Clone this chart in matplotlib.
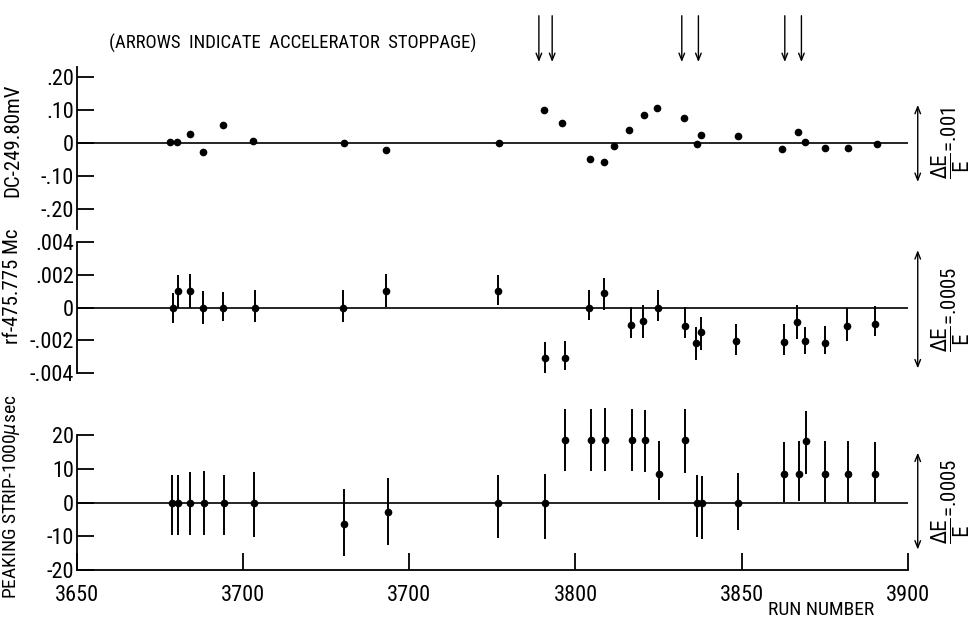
#Run-by-run stability of the beam energy monitors
import matplotlib
matplotlib.use('Agg')
import matplotlib.pyplot as plt
from matplotlib import font_manager

# pick a narrow lettering font if one is installed
names = set(font_manager.get_font_names())
family = 'DejaVu Sans'
for f in ['Liberation Sans Narrow', 'Roboto Condensed', 'Open Sans Condensed']:
    if f in names:
        family = f
        break
plt.rcParams['font.family'] = [family, 'DejaVu Sans']
plt.rcParams['font.stretch'] = 'condensed'

# DC monitor (offset from 249.80 mV)
dc_runs = [3678, 3680, 3684, 3688, 3694, 3703, 3730.5, 3743, 3777, 3790.5, 3796,
           3804.5, 3808.7, 3811.7, 3816.2, 3820.6, 3824.6, 3832.8, 3836.6, 3837.7,
           3849, 3862.2, 3867, 3869, 3875.2, 3882, 3890.6]
dc_vals = [0.004, 0.004, 0.028, -0.027, 0.054, 0.005, 0.0, -0.02, 0.0, 0.10, 0.06,
           -0.05, -0.057, -0.01, 0.04, 0.085, 0.107, 0.075, -0.004, 0.025,
           0.02, -0.017, 0.032, 0.003, -0.016, -0.016, -0.003]

# rf frequency (offset from 475.775 Mc, in units of .001), with error bar ends
rf_runs = [3679, 3680.3, 3684.1, 3688, 3694, 3703.5, 3730.2, 3743, 3776.6, 3790.7,
           3796.8, 3804, 3808.5, 3816.6, 3820.4, 3824.7, 3832.9, 3836.3, 3837.9,
           3848.4, 3862.7, 3866.6, 3869, 3875.2, 3881.8, 3890]
rf_vals = [0.0, 1.0, 1.0, 0.0, 0.0, 0.0, 0.0, 1.0, 1.0, -3.1, -3.1, 0.0, 0.92,
           -1.03, -0.8, 0.0, -1.1, -2.13, -1.48, -2.03, -2.09, -0.88, -2.03,
           -2.15, -1.1, -1.0]
rf_top = [0.9, 1.97, 2.03, 1.0, 0.94, 1.05, 1.1, 2.07, 1.97, -2.11, -2.03, 1.05,
          1.83, 0.02, 0.18, 1.05, 0.06, -1.17, -0.55, -0.97, -0.97, 0.18, -1.21,
          -1.1, -0.02, 0.12]
rf_bot = [-0.95, 0.0, 0.0, -0.97, -0.84, -0.9, -0.9, 0.06, 0.18, -3.96, -3.83,
          -0.76, -0.14, -1.83, -1.83, -0.8, -1.83, -3.22, -2.58, -2.89, -2.89,
          -1.93, -2.81, -2.81, -2.03, -1.72]

# peaking strip (offset from 1000 usec), with error bar ends
ps_runs = [3678.6, 3680.3, 3684.1, 3688.3, 3694.4, 3703.4, 3730.5, 3743.6, 3776.6,
           3790.7, 3796.8, 3804.8, 3809, 3817.1, 3821, 3825, 3832.9, 3836.6, 3838,
           3848.8, 3862.7, 3867.3, 3869.4, 3875.2, 3882.1, 3890.2]
ps_vals = [0, 0, 0, 0, 0, 0, -6.2, -2.8, 0, 0, 18.7, 18.7, 18.7, 18.7, 18.7, 8.6,
           18.7, 0, 0, 0, 8.6, 8.6, 18.4, 8.6, 8.6, 8.6]
ps_top = [8.1, 8.1, 9.1, 9.3, 8.1, 9.1, 4.0, 7.2, 8.3, 8.5, 27.8, 27.8, 28.1, 27.8,
          27.6, 18.2, 27.8, 8.3, 8.0, 8.8, 17.9, 18.2, 27.3, 18.2, 18.2, 17.9]
ps_bot = [-9.7, -9.7, -9.7, -9.7, -9.7, -10.2, -15.9, -12.7, -10.4, -10.8, 9.3,
          9.3, 9.3, 9.3, 9.0, 0.9, 8.8, -10.2, -10.8, -8.2, 0.1, 0.4, 8.6, 0.1,
          0.1, 0.1]

stoppages = [3789, 3793, 3832, 3837, 3863, 3868]
xtick_pos = [3650, 3700, 3750, 3800, 3850, 3900]
xtick_lab = ['3650', '3700', '3700', '3800', '3850', '3900']

fig = plt.figure(figsize=(9.74, 6.19), dpi=100)
ax1 = fig.add_axes([0.079, 0.630, 0.853, 0.262])
ax2 = fig.add_axes([0.079, 0.397, 0.853, 0.212])
ax3 = fig.add_axes([0.079, 0.079, 0.853, 0.218])

FS = 16
for ax in (ax1, ax2, ax3):
    ax.set_xlim(3650, 3900)
    for s in ('top', 'right', 'bottom'):
        ax.spines[s].set_visible(False)
    ax.spines['left'].set_linewidth(1.3)
    ax.axhline(0, color='k', lw=1.2)
    ax.tick_params(axis='y', direction='in', length=12, width=1.3, pad=2,
                   labelsize=FS)
    ax.set_xticks([])

# top panel
ax1.plot(dc_runs, dc_vals, 'o', color='k', ms=4.5)
ax1.set_ylim(-0.2606, 0.2303)
ax1.set_yticks([0.2, 0.1, 0, -0.1, -0.2])
ax1.set_yticklabels(['.20', '.10', '0', '-.10', '-.20'])
ax1.set_ylabel('DC-249.80mV', fontsize=15)
ax1.yaxis.set_label_coords(-0.066, 0.55)

# middle panel
k = 0.001
ax2.errorbar(rf_runs, [v * k for v in rf_vals],
             yerr=[[(v - b) * k for v, b in zip(rf_vals, rf_bot)],
                   [(t - v) * k for v, t in zip(rf_vals, rf_top)]],
             fmt='o', color='k', ms=4.5, elinewidth=1.4, capsize=0, clip_on=False)
ax2.set_ylim(-0.004, 0.004)
ax2.set_yticks([0.004, 0.002, 0, -0.002, -0.004])
ax2.set_yticklabels(['.004', '.002', '0', '-.002', '-.004'])
ax2.set_ylabel('rf-475.775 Mc', fontsize=15)
ax2.yaxis.set_label_coords(-0.066, 0.66)

# bottom panel
ax3.errorbar(ps_runs, ps_vals,
             yerr=[[v - b for v, b in zip(ps_vals, ps_bot)],
                   [t - v for v, t in zip(ps_vals, ps_top)]],
             fmt='o', color='k', ms=4.5, elinewidth=1.4, capsize=0, clip_on=False)
ax3.set_ylim(-20, 20)
ax3.set_yticks([20, 10, 0, -10, -20])
ax3.set_yticklabels(['20', '10', '0', '-10', '-20'])
ax3.set_ylabel(r'PEAKING STRIP-1000$\mu$sec', fontsize=14)
ax3.yaxis.set_label_coords(-0.066, 0.54)
ax3.spines['bottom'].set_visible(True)
ax3.spines['bottom'].set_linewidth(1.3)
ax3.set_xticks(xtick_pos)
ax3.set_xticklabels(xtick_lab)
ax3.tick_params(axis='x', direction='in', length=12, width=1.3, pad=11,
                labelsize=FS)
ax3.text(3858, -31.9, 'RUN NUMBER', fontsize=14, ha='left', va='center')

# accelerator stoppage arrows
for r in stoppages:
    ax1.annotate('', xy=(r, 0.245), xytext=(r, 0.385), annotation_clip=False,
                 arrowprops=dict(arrowstyle='->,head_length=0.5,head_width=0.2',
                                 color='k', lw=1.0, shrinkA=0, shrinkB=0))
ax1.text(3659.5, 0.30, '(ARROWS  INDICATE  ACCELERATOR  STOPPAGE)',
         fontsize=13.5, ha='left', va='center')

# scale arrows on the right
scales = [(ax1, 0.115, -0.118, '.001'), (ax2, 0.0035, -0.0037, '.0005'),
          (ax3, 14.8, -13.9, '.0005')]
for ax, hi, lo, lab in scales:
    ax.annotate('', xy=(3903, lo), xytext=(3903, hi), annotation_clip=False,
                arrowprops=dict(arrowstyle='<->,head_length=0.5,head_width=0.2',
                                color='k', lw=1.0, shrinkA=0, shrinkB=0))
    ax.text(3913, (hi + lo) / 2, r'$\dfrac{\mathrm{\Delta E}}{\mathrm{E}}$=' + lab,
            rotation=90, fontsize=15, ha='center', va='center', clip_on=False)

fig.savefig('out.png', dpi=100)
